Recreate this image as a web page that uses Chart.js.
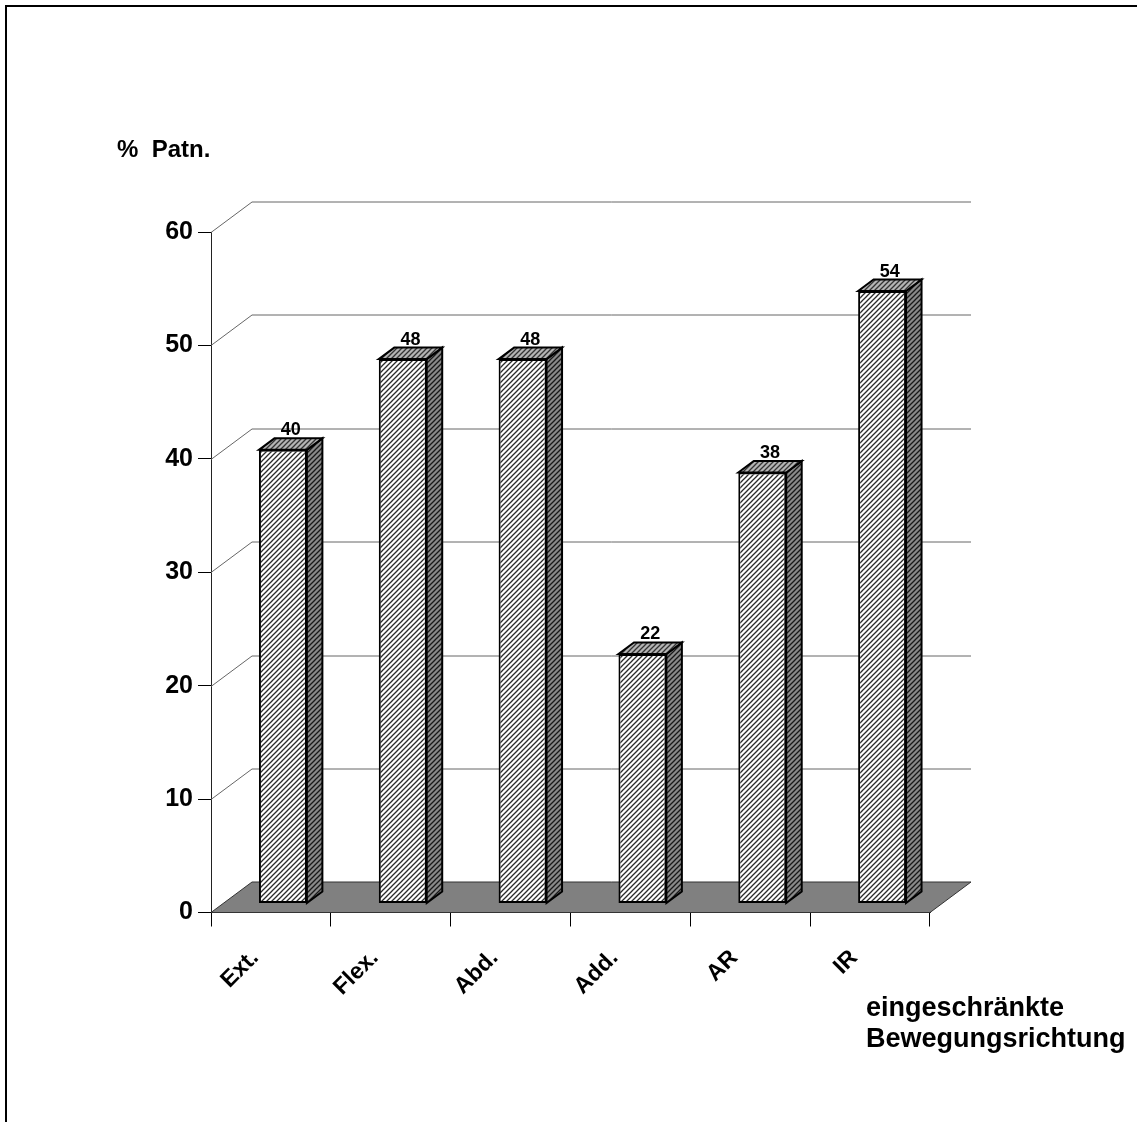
<!DOCTYPE html>
<html><head><meta charset="utf-8">
<script src="https://cdn.jsdelivr.net/npm/chart.js@4.4.1/dist/chart.umd.min.js"></script>
<style>
html,body{margin:0;padding:0;background:#fff;overflow:hidden;}
#wrap{position:relative;width:1137px;height:1122px;overflow:hidden;}
canvas{position:absolute;left:0;top:0;}
.frame{position:absolute;left:5px;top:5px;width:1140px;height:1125px;border-top:2px solid #000;border-left:2px solid #000;}
.txt{position:absolute;font-family:"Liberation Sans",Arial,sans-serif;font-weight:bold;color:#000;white-space:pre;}
</style></head>
<body><div id="wrap"><canvas id="c" width="1137" height="1122"></canvas>
<div class="frame"></div>
<div class="txt" style="left:117px;top:137px;font-size:24px;line-height:24px;">%  Patn.</div>
<div class="txt" style="left:866px;top:992px;font-size:27px;line-height:31px;">eingeschränkte
Bewegungsrichtung</div>
</div>
<script>
const categories = ['Ext.', 'Flex.', 'Abd.', 'Add.', 'AR', 'IR'];
const values = [40, 48, 48, 22, 38, 54];
const yTicks = [0, 10, 20, 30, 40, 50, 60];

Chart.defaults.font.family = '"Liberation Sans", Arial, sans-serif';

const canvas = document.getElementById('c');
const ctx0 = canvas.getContext('2d');
function hatch(bg, fg, size, lw) {
  const c = document.createElement('canvas');
  c.width = c.height = size;
  const x = c.getContext('2d');
  x.fillStyle = bg; x.fillRect(0, 0, size, size);
  x.strokeStyle = fg; x.lineWidth = lw;
  x.beginPath();
  x.moveTo(-1, size + 1); x.lineTo(size + 1, -1);
  x.moveTo(-1, 1); x.lineTo(1, -1);
  x.moveTo(size - 1, size + 1); x.lineTo(size + 1, size - 1);
  x.stroke();
  return ctx0.createPattern(c, 'repeat');
}
const frontPat = hatch('#ffffff', '#2a2a2a', 5, 1.3);
const sidePat = hatch('#8a8a8a', '#1a1a1a', 5, 1.3);
const topPat = hatch('#b4b4b4', '#333333', 5, 1.3);

// depth geometry
const DX = 41, DY = 30.5;   // wall depth
const BX = 12, BY = 9;      // bar front offset from front plane
const SX = 15.5, SY = 11.5; // bar depth

const threeD = {
  id: 'threeD',
  beforeDatasetsDraw(chart) {
    const ctx = chart.ctx, ys = chart.scales.y;
    const L = chart.chartArea.left, R = chart.chartArea.right, B = ys.getPixelForValue(0);
    ctx.save();
    ctx.strokeStyle = '#666'; ctx.lineWidth = 1;
    yTicks.forEach(v => {
      if (v === 0) return;
      const y = Math.round(ys.getPixelForValue(v)) + 0.5;
      ctx.beginPath();
      ctx.moveTo(L, y); ctx.lineTo(L + DX, y - DY); ctx.lineTo(R + DX, y - DY);
      ctx.stroke();
    });
    ctx.beginPath();
    ctx.moveTo(L, B); ctx.lineTo(L + DX, B - DY); ctx.lineTo(R + DX, B - DY); ctx.lineTo(R, B); ctx.closePath();
    ctx.fillStyle = '#808080'; ctx.fill();
    ctx.strokeStyle = '#333'; ctx.stroke();
    ctx.restore();
    ctx.save();
    ctx.translate(BX, -BY);
  },
  afterDatasetsDraw(chart) {
    const ctx = chart.ctx;
    ctx.restore();
    const meta = chart.getDatasetMeta(0);
    meta.data.forEach((bar, i) => {
      const p = bar.getProps(['x', 'y', 'base', 'width'], true);
      const l = p.x - p.width / 2 + BX, r = p.x + p.width / 2 + BX;
      const t = p.y - BY, b = p.base - BY;
      ctx.save();
      ctx.lineWidth = 2; ctx.strokeStyle = '#000'; ctx.lineJoin = 'miter';
      ctx.beginPath();
      ctx.moveTo(r, t); ctx.lineTo(r + SX, t - SY); ctx.lineTo(r + SX, b - SY); ctx.lineTo(r, b); ctx.closePath();
      ctx.fillStyle = sidePat; ctx.fill(); ctx.stroke();
      ctx.beginPath();
      ctx.moveTo(l, t); ctx.lineTo(l + SX, t - SY); ctx.lineTo(r + SX, t - SY); ctx.lineTo(r, t); ctx.closePath();
      ctx.fillStyle = topPat; ctx.fill(); ctx.stroke();
      ctx.fillStyle = '#000';
      ctx.font = 'bold 18px "Liberation Sans", Arial, sans-serif';
      ctx.textAlign = 'center'; ctx.textBaseline = 'alphabetic';
      ctx.fillText(String(values[i]), (l + r) / 2 + SX / 2, t - SY - 3);
      ctx.restore();
    });
  }
};

new Chart(canvas, {
  type: 'bar',
  data: {
    labels: categories,
    datasets: [{
      data: values,
      backgroundColor: frontPat,
      borderColor: '#000',
      borderWidth: 2,
      borderSkipped: false,
      categoryPercentage: 1.0,
      barPercentage: 0.4
    }]
  },
  options: {
    responsive: false,
    animation: false,
    events: [],
    devicePixelRatio: 1,
    layout: { padding: { left: 0, top: 232, right: 207, bottom: 0 } },
    plugins: { legend: { display: false }, tooltip: { enabled: false }, title: { display: false } },
    scales: {
      x: {
        grid: { display: true, drawOnChartArea: false, drawTicks: true, tickLength: 14, color: '#000', lineWidth: 1, offset: true },
        border: { display: true, color: '#000', width: 1 },
        ticks: { minRotation: 45, maxRotation: 45, autoSkip: false, padding: 18, labelOffset: -16, color: '#000', font: { size: 23, weight: 'bold' } },
        afterFit(s) { s.height = 1122 - 912.5; }
      },
      y: {
        min: 0, max: 60,
        afterBuildTicks(s) { s.ticks = yTicks.map(v => ({ value: v })); },
        grid: { drawOnChartArea: false, drawTicks: true, tickLength: 13, color: '#000' },
        border: { display: true, color: '#222', width: 1 },
        ticks: { padding: 5, color: '#000', font: { size: 25, weight: 'bold' } },
        afterFit(s) { s.width = 211; }
      }
    }
  },
  plugins: [threeD]
});
</script>
</body></html>
